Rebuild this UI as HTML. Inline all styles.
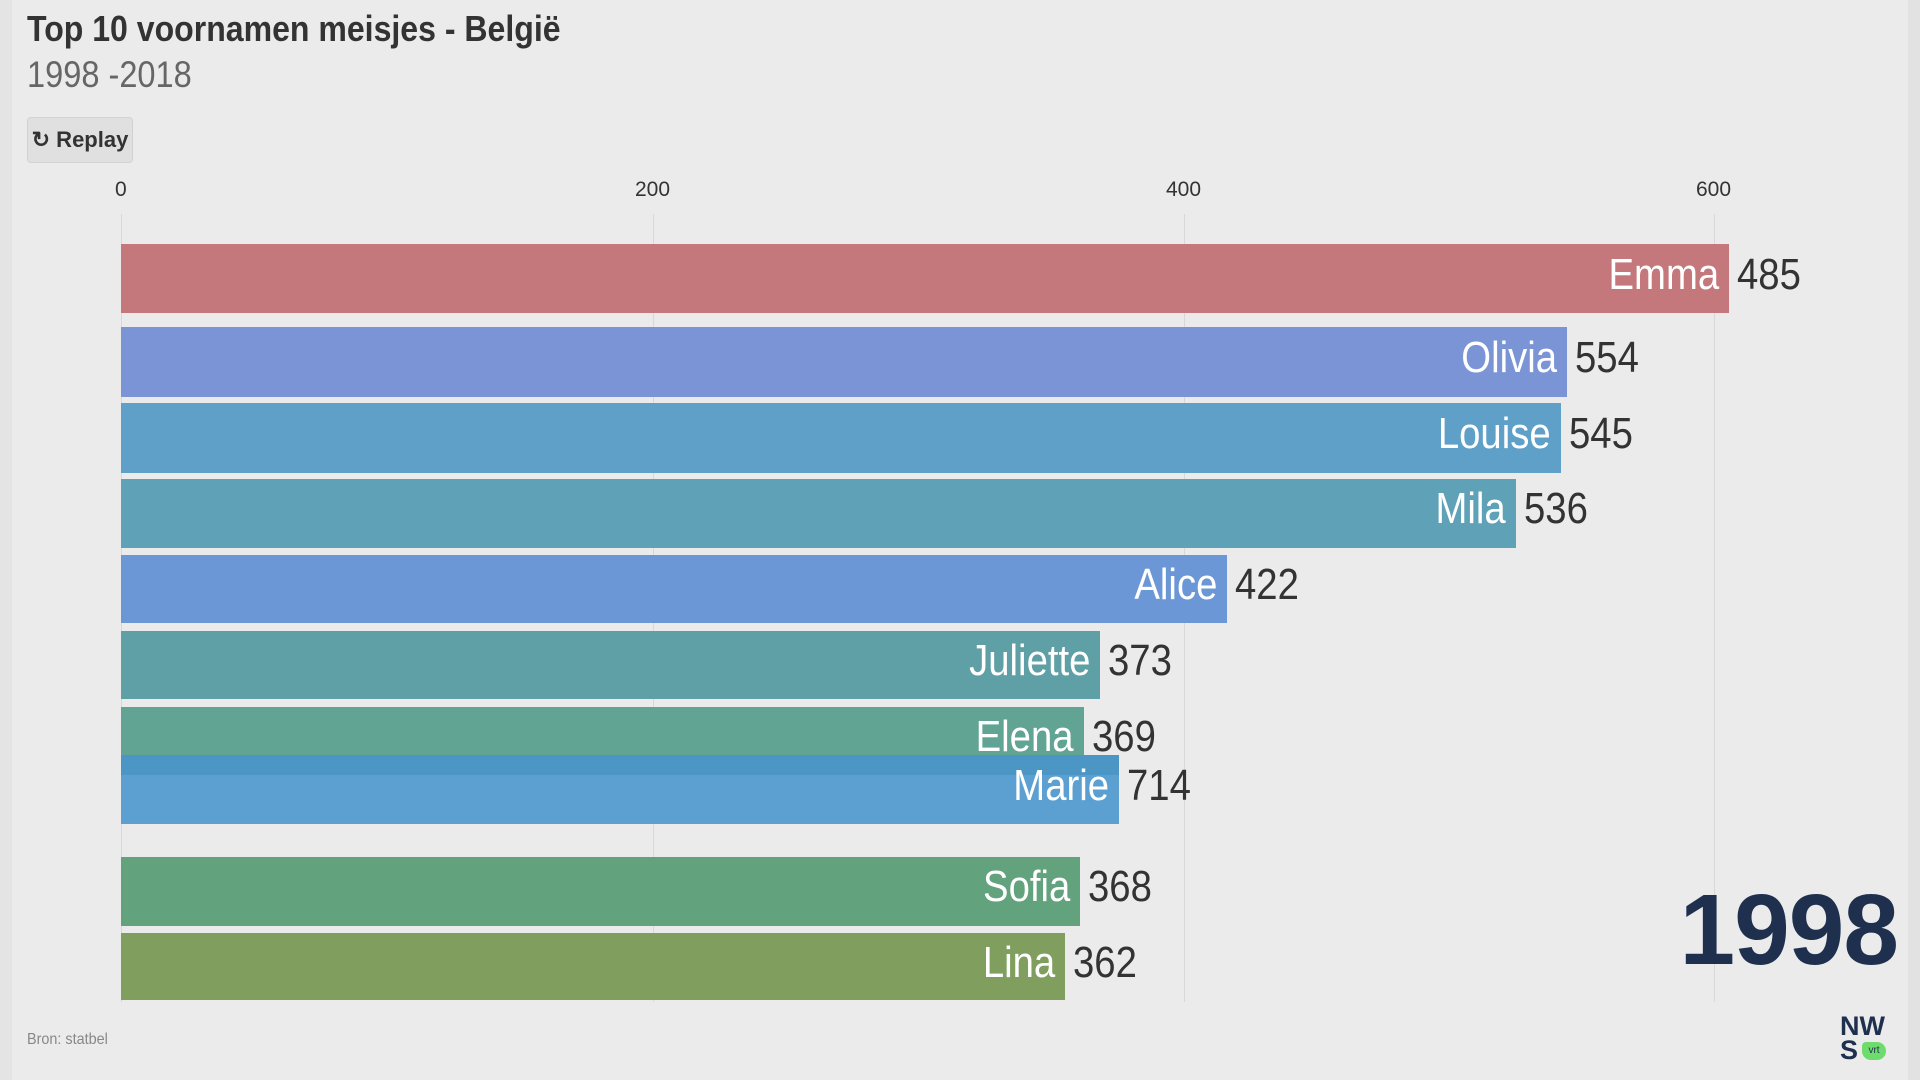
<!DOCTYPE html>
<html><head><meta charset="utf-8"><style>
body{margin:0;width:1920px;height:1080px;background:#ebebeb;overflow:hidden;position:relative;font-family:"Liberation Sans",sans-serif;}
.t{position:absolute;white-space:nowrap}
.bar{position:absolute;left:121px}
.g{position:absolute;top:214px;height:788px;width:1px;background:#d8d8d8}
.n{position:absolute;color:#fff;font-size:44px;text-align:right;line-height:1;transform:scaleX(0.87);transform-origin:right center;white-space:nowrap}
.v{position:absolute;color:#333;font-size:44px;line-height:1;transform:scaleX(0.87);transform-origin:left center}
</style></head><body>
<div style="position:absolute;left:0;top:0;width:12px;height:1080px;background:#e4e4e4"></div>
<div style="position:absolute;left:1908px;top:0;width:12px;height:1080px;background:#e2e2e2"></div>
<div class="t" style="left:27px;top:8px;font-size:36px;font-weight:bold;color:#333;transform:scaleX(0.89);transform-origin:left">Top 10 voornamen meisjes - België</div>
<div class="t" style="left:27px;top:54px;font-size:37px;color:#666;transform:scaleX(0.88);transform-origin:left">1998 -2018</div>
<div class="t" style="left:27px;top:117px;width:106px;height:46px;background:#e0e0e0;border:1px solid #d2d2d2;border-radius:4px;box-sizing:border-box;font-size:22px;font-weight:bold;color:#333;line-height:44px;text-align:center">↻ Replay</div>
<div class="g" style="left:121px"></div><div class="g" style="left:653px"></div><div class="g" style="left:1184px"></div><div class="g" style="left:1714px"></div>
<div class="t" style="left:115px;top:178px;font-size:21px;color:#333">0</div>
<div class="t" style="left:635px;top:178px;font-size:21px;color:#333">200</div>
<div class="t" style="left:1166px;top:178px;font-size:21px;color:#333">400</div>
<div class="t" style="left:1696px;top:178px;font-size:21px;color:#333">600</div>

<div class="bar" style="top:244px;height:69px;width:1608px;background:#c4787c"></div>
<div class="bar" style="top:327px;height:70px;width:1446px;background:#7a94d6"></div>
<div class="bar" style="top:403px;height:70px;width:1440px;background:#5fa0c8"></div>
<div class="bar" style="top:479px;height:69px;width:1395px;background:#5fa2b8"></div>
<div class="bar" style="top:555px;height:68px;width:1106px;background:#6c97d6"></div>
<div class="bar" style="top:631px;height:68px;width:979px;background:#5f9fa6"></div>
<div class="bar" style="top:707px;height:68px;width:963px;background:#62a494"></div>
<div class="bar" style="top:755px;height:69px;width:998px;background:#5ba0d0"></div>
<div class="bar" style="top:755px;height:20px;width:998px;background:#4c96c6"></div>
<div class="bar" style="top:857px;height:69px;width:959px;background:#62a27c"></div>
<div class="bar" style="top:933px;height:67px;width:944px;background:#809f5e"></div>

<div class="n" style="right:201px;top:253px">Emma</div><div class="v" style="left:1737px;top:253px">485</div>
<div class="n" style="right:363px;top:336px">Olivia</div><div class="v" style="left:1575px;top:336px">554</div>
<div class="n" style="right:369px;top:412px">Louise</div><div class="v" style="left:1569px;top:412px">545</div>
<div class="n" style="right:414px;top:487px">Mila</div><div class="v" style="left:1524px;top:487px">536</div>
<div class="n" style="right:703px;top:563px">Alice</div><div class="v" style="left:1235px;top:563px">422</div>
<div class="n" style="right:830px;top:639px">Juliette</div><div class="v" style="left:1108px;top:639px">373</div>
<div class="n" style="right:846px;top:715px">Elena</div><div class="v" style="left:1092px;top:715px">369</div>
<div class="n" style="right:811px;top:764px">Marie</div><div class="v" style="left:1127px;top:764px">714</div>
<div class="n" style="right:850px;top:865px">Sofia</div><div class="v" style="left:1088px;top:865px">368</div>
<div class="n" style="right:865px;top:941px">Lina</div><div class="v" style="left:1073px;top:941px">362</div>

<div class="t" style="right:22px;top:880px;font-size:100px;font-weight:bold;color:#1f2f4e;line-height:1;letter-spacing:-1px">1998</div>
<div class="t" style="left:27px;top:1031px;font-size:16px;color:#888;transform:scaleX(0.9);transform-origin:left">Bron: statbel</div>
<div class="t" style="left:1840px;top:1014px;font-size:27px;font-weight:bold;color:#1f2f4e;line-height:24px">NW<br>S</div>
<div class="t" style="left:1862px;top:1042px;width:24px;height:18px;border-radius:4px 9px 9px 9px;background:#6ddc6c;font-size:10px;color:#1f2f4e;text-align:center;line-height:18px">vrt</div>
</body></html>
